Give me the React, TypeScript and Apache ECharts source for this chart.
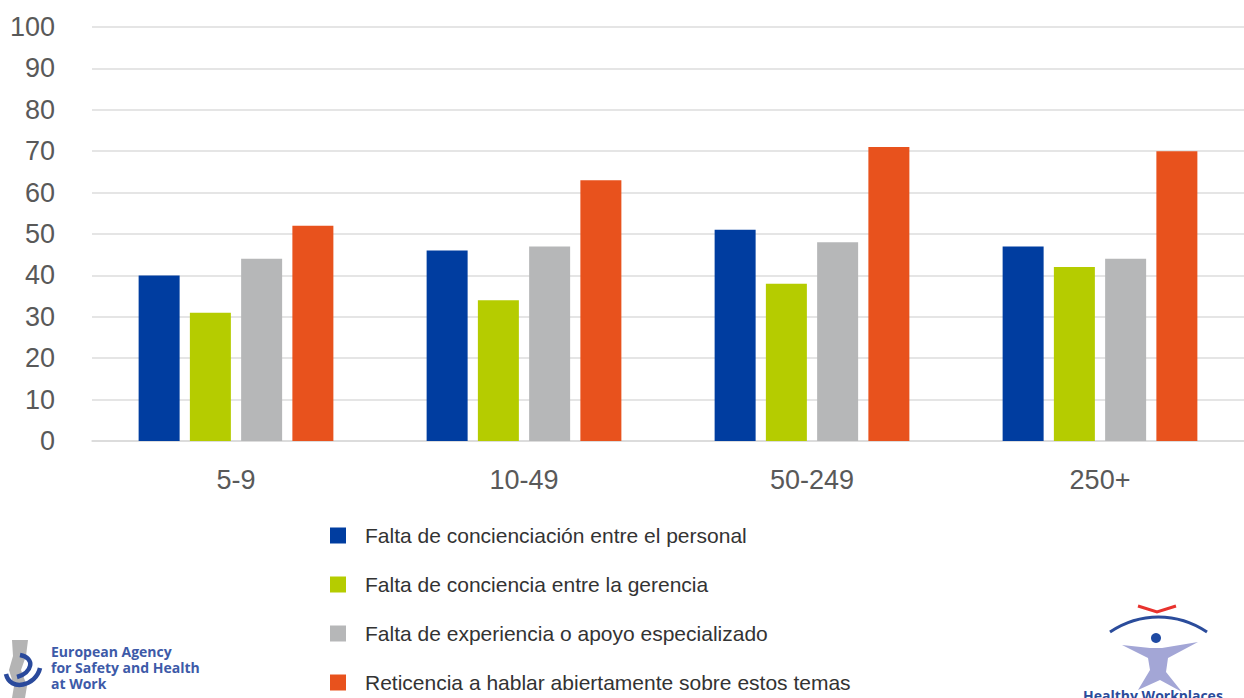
import React, { useEffect, useRef } from "react";
import * as echarts from "echarts";

const categories = ["5-9", "10-49", "50-249", "250+"];
const seriesNames = [
  "Falta de concienciación entre el personal",
  "Falta de conciencia entre la gerencia",
  "Falta de experiencia o apoyo especializado",
  "Reticencia a hablar abiertamente sobre estos temas",
];
const personal = [40, 46, 51, 47];
const gerencia = [31, 34, 38, 42];
const experiencia = [44, 47, 48, 44];
const reticencia = [52, 63, 71, 70];
const colors = ["#003da0", "#b5cc00", "#b6b7b8", "#e8521d"];

const FONT = "Liberation Sans, Arial, sans-serif";
const LOGO_FONT = "bold 14px 'Open Sans', 'DejaVu Sans', sans-serif";

export default function App() {
  const ref = useRef<HTMLDivElement>(null);
  useEffect(() => {
    if (!ref.current) return;
    const chart = echarts.init(ref.current, null, { renderer: "svg" });
    const values = [personal, gerencia, experiencia, reticencia];
    chart.setOption({
      animation: false,
      backgroundColor: "#ffffff",
      grid: { left: 92, right: 0, top: 27, bottom: 257, containLabel: false },
      xAxis: {
        type: "category",
        data: categories,
        axisLine: { lineStyle: { color: "#d9d9d9", width: 1.5 } },
        axisTick: { show: false },
        axisLabel: { fontSize: 27, color: "#595959", margin: 25, fontFamily: FONT },
      },
      yAxis: {
        type: "value",
        min: 0,
        max: 100,
        interval: 10,
        axisLine: { show: false },
        axisTick: { show: false },
        axisLabel: { fontSize: 27, color: "#595959", margin: 37, fontFamily: FONT },
        splitLine: { lineStyle: { color: "#dcdcdc", width: 1.5 } },
      },
      legend: {
        orient: "vertical",
        left: 330,
        top: 525,
        height: 173,
        padding: 0,
        itemWidth: 16,
        itemHeight: 16,
        itemGap: 28,
        icon: "rect",
        textStyle: {
          fontSize: 21,
          lineHeight: 21,
          color: "#333333",
          fontFamily: FONT,
          padding: [0, 0, 0, 14],
        },
        data: seriesNames,
      },
      series: seriesNames.map((name, i) => ({
        name,
        type: "bar",
        data: values[i],
        barWidth: 41,
        barGap: "25%",
        itemStyle: { color: colors[i] },
      })),
      graphic: [
        // EU-OSHA logo
        {
          type: "polygon",
          shape: {
            points: [[12, 640], [28, 640], [26, 656], [21, 670], [27, 686], [25, 698], [12, 698], [14, 686], [9, 670], [13, 656]],
          },
          style: { fill: "#b4b4b4" },
        },
        {
          type: "bezierCurve",
          shape: { x1: 6, y1: 674, x2: 40, y2: 668, cpx1: 10, cpy1: 692, cpx2: 36, cpy2: 686 },
          style: { stroke: "#2a4a9c", lineWidth: 4.5, fill: "none" },
        },
        {
          type: "bezierCurve",
          shape: { x1: 20, y1: 655, x2: 17, y2: 677, cpx1: 36, cpy1: 658, cpx2: 32, cpy2: 673 },
          style: { stroke: "#2a4a9c", lineWidth: 4.5, fill: "none" },
        },
        {
          type: "text",
          left: 51,
          top: 644,
          style: { text: "European Agency", fill: "#3d5aa8", font: LOGO_FONT, lineHeight: 15 },
        },
        {
          type: "text",
          left: 51,
          top: 660,
          style: { text: "for Safety and Health", fill: "#3d5aa8", font: LOGO_FONT, lineHeight: 15 },
        },
        {
          type: "text",
          left: 51,
          top: 676,
          style: { text: "at Work", fill: "#3d5aa8", font: LOGO_FONT, lineHeight: 15 },
        },
        // Healthy Workplaces logo
        {
          type: "polyline",
          shape: { points: [[1138, 606], [1157, 612], [1176, 606]] },
          style: { stroke: "#e8322d", lineWidth: 3, fill: "none" },
        },
        {
          type: "bezierCurve",
          shape: { x1: 1110, y1: 632, x2: 1207, y2: 632, cpx1: 1140, cpy1: 612, cpx2: 1177, cpy2: 612 },
          style: { stroke: "#2b4c9b", lineWidth: 3, fill: "none" },
        },
        { type: "circle", shape: { cx: 1156, cy: 638, r: 5 }, style: { fill: "#1f4aa3" } },
        {
          type: "polygon",
          shape: {
            points: [
              [1122, 645], [1150, 648], [1162, 648], [1198, 642], [1168, 658], [1166, 672],
              [1182, 692], [1160, 680], [1138, 690], [1150, 670], [1148, 658],
            ],
          },
          style: { fill: "#a3a6d6" },
        },
        {
          type: "text",
          left: 1083,
          top: 688,
          style: { text: "Healthy Workplaces", fill: "#2b4c9b", font: LOGO_FONT },
        },
      ],
    });
    return () => chart.dispose();
  }, []);
  return (
    <div
      ref={ref}
      style={{ position: "absolute", left: 0, top: 0, width: 1244, height: 698, background: "#fff" }}
    />
  );
}
